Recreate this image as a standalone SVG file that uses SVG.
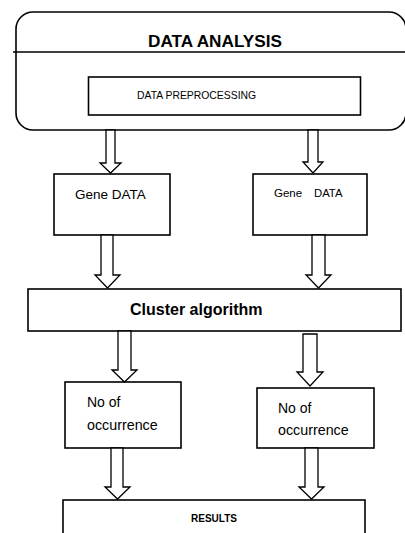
<svg xmlns="http://www.w3.org/2000/svg" width="405" height="533" viewBox="0 0 405 533">
<style>
.box{fill:#fff;stroke:#000;stroke-width:1.6}
.arr{fill:#fff;stroke:#000;stroke-width:1.3;stroke-linejoin:miter}
text{font-family:"Liberation Sans",Arial,sans-serif;fill:#000}
.b{font-weight:bold}
</style>
<rect width="405" height="533" fill="#fff"/>
<g id="data-analysis">
<rect class="box" x="16" y="12" width="390" height="118" rx="17" ry="17"/>
<line x1="13" y1="52" x2="405" y2="52" stroke="#000" stroke-width="1.6"/>
<text class="b" x="215" y="47" font-size="17.2" text-anchor="middle">DATA ANALYSIS</text>
</g>
<g id="data-preprocessing">
<rect class="box" x="88.5" y="77" width="272" height="38"/>
<text x="137" y="99" font-size="10.4">DATA PREPROCESSING</text>
</g>
<g id="gene-data-1">
<rect class="box" x="54" y="174" width="116" height="61"/>
<text x="75" y="199" font-size="13.5">Gene DATA</text>
</g>
<g id="gene-data-2">
<rect class="box" x="253" y="174" width="114" height="61"/>
<text x="274" y="197" font-size="11.5">Gene</text>
<text x="314" y="197" font-size="11.3">DATA</text>
</g>
<g id="cluster-algorithm">
<rect class="box" x="28" y="289" width="373" height="42"/>
<text class="b" x="130" y="315" font-size="16">Cluster algorithm</text>
</g>
<g id="occurrence-1">
<rect class="box" x="65" y="382" width="116" height="66"/>
<text x="87" y="407" font-size="14">No of</text>
<text x="87" y="430" font-size="14.3">occurrence</text>
</g>
<g id="occurrence-2">
<rect class="box" x="257" y="388" width="117" height="60"/>
<text x="278" y="413" font-size="14">No of</text>
<text x="278" y="435" font-size="14.3">occurrence</text>
</g>
<g id="results">
<rect class="box" x="63" y="500" width="302" height="45"/>
<text class="b" x="214" y="522" font-size="10" text-anchor="middle">RESULTS</text>
</g>
<g id="connectors">
<polygon class="arr" points="106,130 115,130 115,163 121,163 110.5,173 100,163 106,163"/>
<polygon class="arr" points="308,130 318,130 318,162 323,162 313,173 303,162 308,162"/>
<polygon class="arr" points="101,235 113,235 113,275 120,275 107.5,288 95,275 101,275"/>
<polygon class="arr" points="312,235 325,235 325,275 331,275 318.5,288 306,275 312,275"/>
<polygon class="arr" points="118,331 131,331 131,370 137,370 124.5,382 112,370 118,370"/>
<polygon class="arr" points="303,334 317,334 317,372 323,372 310,386 297,372 303,372"/>
<polygon class="arr" points="111,448 123,448 123,487 130,487 117.5,499 105,487 111,487"/>
<polygon class="arr" points="305,448 318,448 318,487 324,487 311.5,499 299,487 305,487"/>
</g>
</svg>
